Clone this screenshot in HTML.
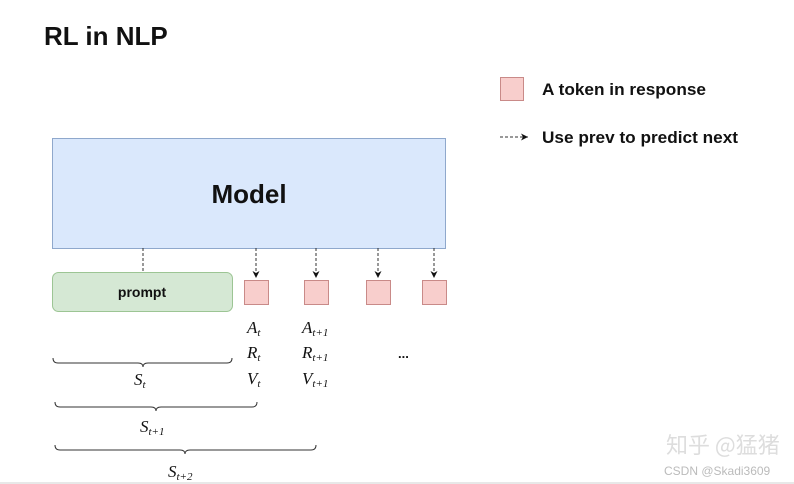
<!DOCTYPE html>
<html><head><meta charset="utf-8"><style>
html,body{margin:0;padding:0;background:#fff;}
svg{display:block;}
.b{font-family:"Liberation Sans",Arial,sans-serif;font-weight:bold;fill:#111;}
.m{font-family:"Liberation Serif",serif;font-style:italic;fill:#111;font-size:17px;}
.s{font-size:11px;}
</style></head><body>
<svg width="794" height="484" viewBox="0 0 794 484" xmlns="http://www.w3.org/2000/svg">
<defs><marker id="ar" markerWidth="8" markerHeight="8" refX="7" refY="4" orient="auto" markerUnits="userSpaceOnUse"><path d="M0,0.5 L7,4 L0,7.5 L2,4 Z" fill="#111"/></marker></defs>
<text x="44" y="45" class="b" font-size="26">RL in NLP</text>
<rect x="52.5" y="138.5" width="393" height="110" fill="#dae8fc" stroke="#8fa8cc"/>
<text x="249" y="203" class="b" font-size="26" text-anchor="middle">Model</text>
<g stroke="#333" stroke-width="1" stroke-dasharray="3,2" fill="none">
<line x1="143" y1="248" x2="143" y2="272"/>
<line x1="256" y1="248" x2="256" y2="278" marker-end="url(#ar)"/>
<line x1="316" y1="248" x2="316" y2="278" marker-end="url(#ar)"/>
<line x1="378" y1="248" x2="378" y2="278" marker-end="url(#ar)"/>
<line x1="434" y1="248" x2="434" y2="278" marker-end="url(#ar)"/>
<line x1="500" y1="137" x2="528" y2="137" marker-end="url(#ar)"/>
</g>
<rect x="52.5" y="272.5" width="180" height="39" rx="6" fill="#d5e8d4" stroke="#9cc594"/>
<text x="142" y="297" class="b" font-size="14" text-anchor="middle">prompt</text>
<g fill="#f8cecc" stroke="#c98a88">
<rect x="244.5" y="280.5" width="24" height="24"/>
<rect x="304.5" y="280.5" width="24" height="24"/>
<rect x="366.5" y="280.5" width="24" height="24"/>
<rect x="422.5" y="280.5" width="24" height="24"/>
<rect x="500.5" y="77.5" width="23" height="23"/>
</g>
<text x="542" y="95" class="b" font-size="16.5" textLength="164" lengthAdjust="spacingAndGlyphs">A token in response</text>
<text x="542" y="143" class="b" font-size="16.5" textLength="196" lengthAdjust="spacingAndGlyphs">Use prev to predict next</text>
<text x="247" y="333" class="m">A<tspan class="s" dy="3">t</tspan></text>
<text x="247" y="358" class="m">R<tspan class="s" dy="3">t</tspan></text>
<text x="247" y="384" class="m">V<tspan class="s" dy="3">t</tspan></text>
<text x="302" y="333" class="m">A<tspan class="s" dy="3">t+1</tspan></text>
<text x="302" y="358" class="m">R<tspan class="s" dy="3">t+1</tspan></text>
<text x="302" y="384" class="m">V<tspan class="s" dy="3">t+1</tspan></text>
<text x="398" y="358" class="b" font-size="13">...</text>
<g stroke="#333" stroke-width="1" fill="none">
<path d="M53,358 q0,5 5,5 H138 q5,0 5,4 q0,-4 5,-4 H227 q5,0 5,-5"/>
<path d="M55,402 q0,5 5,5 H151 q5,0 5,4 q0,-4 5,-4 H252 q5,0 5,-5"/>
<path d="M55,445 q0,5 5,5 H180 q5,0 5,4 q0,-4 5,-4 H311 q5,0 5,-5"/>
</g>
<text x="134" y="385" class="m">S<tspan class="s" dy="3">t</tspan></text>
<text x="140" y="432" class="m">S<tspan class="s" dy="3">t+1</tspan></text>
<text x="168" y="477" class="m">S<tspan class="s" dy="3">t+2</tspan></text>
<text x="666" y="453" font-family="'Noto Sans CJK SC',sans-serif" font-size="22" fill="#ddd">知乎 @猛猪</text>
<text x="664" y="475" font-family="'Liberation Sans',sans-serif" font-size="12" fill="#bbb">CSDN @Skadi3609</text>
<rect x="0" y="482" width="794" height="2" fill="#e8e8e8"/>
</svg>
</body></html>
